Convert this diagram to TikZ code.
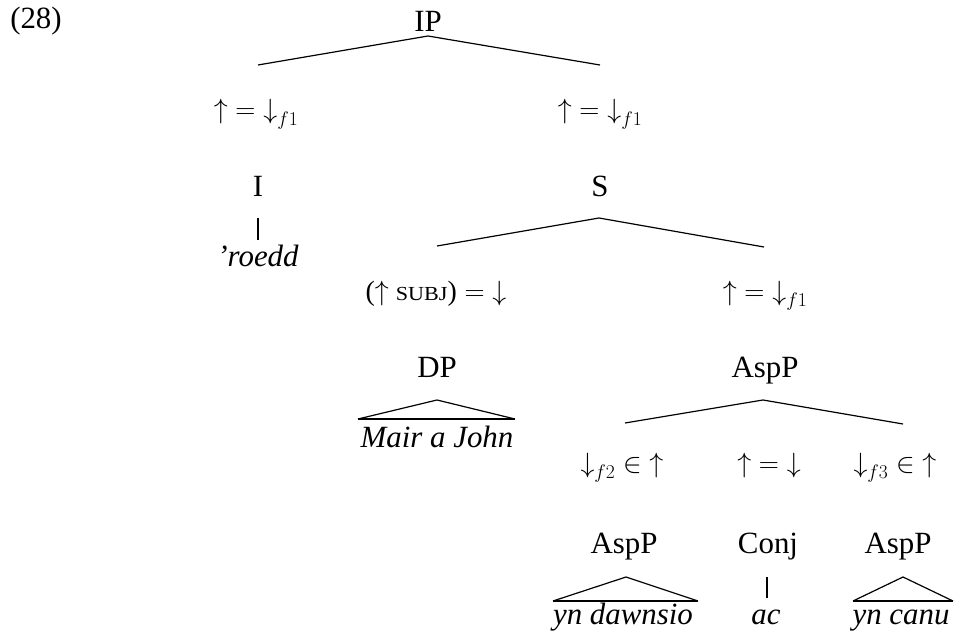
\RequirePackage{fix-cm}
\documentclass[tikz,border=0pt]{standalone}
\usepackage[no-math]{fontspec}
\setmainfont{Liberation Serif}
\begin{document}
\begin{tikzpicture}[x=1bp,y=-1bp,
  every node/.style={inner sep=0pt, anchor=base, font=\fontsize{31}{36}\selectfont},
  cat/.style={},
  eqn/.style={font=\fontsize{28}{32}\selectfont},
  word/.style={font=\fontsize{31}{36}\selectfont\itshape},
  branch/.style={line width=1.2bp},
  base/.style={line width=2.2bp}]
\useasboundingbox (0,0) rectangle (955,631);
% example number
\node[cat] (num) at (36,29) {(28)};
% IP level
\node[cat] (IP) at (428,32) {IP};
\coordinate (IPa) at (428,36);
\coordinate (IPl) at (258,65);
\coordinate (IPr) at (600,65);
\draw[branch] (IPl) -- (IPa) -- (IPr);
\node[eqn] (a1) at (256,119) {${\uparrow} = {\downarrow}_{f1}$};
\node[eqn] (a2) at (600,119) {${\uparrow} = {\downarrow}_{f1}$};
\node[cat] (I) at (258,197) {I};
\node[cat] (S) at (600,197) {S};
% I -> 'roedd
\coordinate (It) at (258,218);
\coordinate (Ib) at (258,240);
\draw[branch] (It) -- (Ib);
\node[word] (roedd) at (258,267) {'roedd};
% S level
\coordinate (Sa) at (599,218);
\coordinate (Sl) at (437,246);
\coordinate (Sr) at (764,247);
\draw[branch] (Sl) -- (Sa) -- (Sr);
\node[eqn] (a3) at (436,300) {(${\uparrow}$ \scalebox{1.11}[1]{\fontsize{20}{24}\selectfont SUBJ})${} = {\downarrow}$};
\node[eqn] (a4) at (765,300) {${\uparrow} = {\downarrow}_{f1}$};
\node[cat] (DP) at (437,377) {DP};
\node[cat] (AspP) at (765,377) {AspP};
% DP triangle
\coordinate (Da) at (437,400);
\coordinate (Dl) at (358,419);
\coordinate (Dr) at (515,419);
\draw[branch] (Dl) -- (Da) -- (Dr);
\draw[base] (Dl) -- (Dr);
\node[word] (mair) at (437,447) {Mair a John};
% AspP level
\coordinate (Aa) at (763,400);
\coordinate (Al) at (625,423);
\coordinate (Ar) at (903,424);
\draw[branch] (Al) -- (Aa) -- (Ar);
\node[eqn] (a5) at (622,472) {${\downarrow}_{f2} \in {\uparrow}$};
\node[eqn] (a6) at (769,472) {${\uparrow} = {\downarrow}$};
\node[eqn] (a7) at (895,472) {${\downarrow}_{f3} \in {\uparrow}$};
\node[cat] (Asp1) at (624,553) {AspP};
\node[cat] (Conj) at (768,553) {Conj};
\node[cat] (Asp2) at (898,553) {AspP};
% bottom triangles
\coordinate (T1a) at (626,577);
\coordinate (T1l) at (553,601);
\coordinate (T1r) at (698,601);
\draw[branch] (T1l) -- (T1a) -- (T1r);
\draw[base] (T1l) -- (T1r);
\node[word] (dawn) at (623,624) {yn dawnsio};
\coordinate (Ct) at (767,577);
\coordinate (Cb) at (767,598);
\draw[branch] (Ct) -- (Cb);
\node[word] (ac) at (766,624) {ac};
\coordinate (T2a) at (903,577);
\coordinate (T2l) at (853,601);
\coordinate (T2r) at (953,601);
\draw[branch] (T2l) -- (T2a) -- (T2r);
\draw[base] (T2l) -- (T2r);
\node[word] (canu) at (901,624) {yn canu};
\end{tikzpicture}
\end{document}
